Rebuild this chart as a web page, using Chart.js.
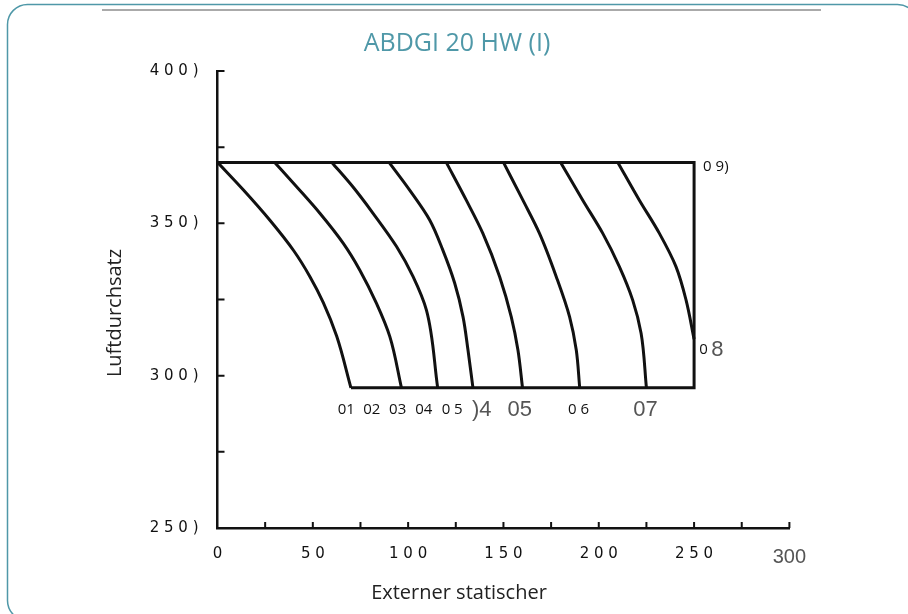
<!DOCTYPE html>
<html>
<head>
<meta charset="utf-8">
<title>ABDGI 20 HW (I)</title>
<script src="https://cdn.jsdelivr.net/npm/chart.js@4.4.0/dist/chart.umd.min.js"></script>
<style>
  html, body { margin: 0; padding: 0; background: #fff; overflow: hidden; }
  #chart { display: block; }
</style>
</head>
<body>
<canvas id="chart" width="908" height="614"></canvas>
<script>
// Kennlinien: x = externer statischer Druck, y = Luftdurchsatz
const curve1X = [0, 13.5, 27.5, 40, 48.5, 55.5, 62.5, 70];
const curve1Y = [370, 361, 351, 341, 332.5, 324, 313, 296];
const curve2X = [30, 41.5, 53.7, 66, 74.6, 83.4, 90.4, 96.5];
const curve2Y = [370, 362, 353.3, 343.4, 334.7, 323.7, 312.8, 296];
const curve3X = [60, 71, 81.6, 94, 102.6, 109.6, 115.5];
const curve3Y = [370, 362, 353.3, 342.3, 332.5, 321.5, 296];
const curve4X = [90, 100.8, 111.3, 118.2, 124.4, 128.8, 131.4, 134];
const curve4Y = [370, 360.9, 351.1, 341.2, 330.4, 319.3, 308.4, 296];
const curve5X = [120, 130.5, 139.2, 148, 154.1, 157.6, 160];
const curve5Y = [370, 357.6, 346.7, 332.5, 319.3, 308.4, 296];
const curve6X = [150, 160.2, 168.9, 177.7, 184.7, 188.2, 190];
const curve6Y = [370, 357.6, 346.7, 332.5, 319.3, 308.4, 296];
const curve7X = [180, 191.6, 202.1, 210.8, 217.8, 222.2, 225];
const curve7Y = [370, 357.6, 346.7, 335.8, 324.8, 313.9, 296];
const curve8X = [210, 221.3, 231.8, 240.5, 245.8, 250];
const curve8Y = [370, 357.6, 346.7, 335.8, 324.8, 312];

// Rahmen des Arbeitsbereichs
const boxX = [0, 250, 250, 70];
const boxY = [370, 370, 296, 296];

// Achsenbeschriftungen
const xLabelValues = [0, 50, 100, 150, 200, 250, 300];
const xLabels = ['0', '5 0', '1 0 0', '1 5 0', '2 0 0', '2 5 0', '300'];
const yLabelValues = [250, 300, 350, 400];
const yLabels = ['2 5 0 )', '3 0 0 )', '3 5 0 )', '4 0 0 )'];

// Kurvenbeschriftungen
const smallLabels = ['01', '02', '03', '04', '0 5', '0 6', '0 9)', '0'];
const smallLabelX = [67.6, 80.9, 94.5, 108.2, 123.1, 189.4, 261.4, 254.9];
const smallLabelY = [288.7, 288.7, 288.7, 288.7, 288.7, 288.7, 368.6, 308.4];
const bigLabels = [')4', '05', '07', '8'];
const bigLabelX = [138.6, 158.5, 224.5, 262.2];
const bigLabelY = [288.7, 288.7, 288.7, 308.4];

const curves = [
    [curve1X, curve1Y], [curve2X, curve2Y], [curve3X, curve3Y], [curve4X, curve4Y],
    [curve5X, curve5Y], [curve6X, curve6Y], [curve7X, curve7Y], [curve8X, curve8Y]
];

function toPoints(xs, ys) {
    return xs.map((x, i) => ({ x: x, y: ys[i] }));
}

// Kurven laufen nach unten, daher entlang y glätten
const datasets = curves.map((c, i) => ({
    label: 'Kurve ' + (i + 1),
    data: toPoints(c[0], c[1]),
    indexAxis: 'y',
    borderColor: '#111',
    borderWidth: 3,
    pointRadius: 0,
    cubicInterpolationMode: 'monotone',
    fill: false
}));
datasets.push({
    label: 'Bereich',
    data: toPoints(boxX, boxY),
    borderColor: '#111',
    borderWidth: 3,
    pointRadius: 0,
    tension: 0,
    borderJoinStyle: 'miter',
    fill: false
});

const frame = {
    id: 'frame',
    beforeDraw(chart) {
        const ctx = chart.ctx;
        ctx.save();
        ctx.fillStyle = '#fff';
        ctx.fillRect(0, 0, chart.width, chart.height);
        ctx.strokeStyle = '#4f98a8';
        ctx.lineWidth = 1.5;
        ctx.beginPath();
        ctx.roundRect(7.5, 4.5, 910, 616, 20);
        ctx.stroke();
        ctx.strokeStyle = '#aaa';
        ctx.lineWidth = 2;
        ctx.beginPath();
        ctx.moveTo(102, 10);
        ctx.lineTo(821, 10);
        ctx.stroke();

        ctx.font = '25px "Open Sans"';
        ctx.fillStyle = '#4f98a8';
        ctx.textAlign = 'center';
        ctx.textBaseline = 'middle';
        ctx.fillText('ABDGI 20 HW (I)', 457, 44);
        ctx.restore();
    }
};

// kurze Teilstriche nach innen
const innerTicks = {
    id: 'innerTicks',
    afterDatasetsDraw(chart) {
        const { ctx, chartArea, scales: { x, y } } = chart;
        ctx.save();
        ctx.strokeStyle = '#111';
        ctx.lineWidth = 2;
        ctx.beginPath();
        x.ticks.forEach(t => {
            if (t.value === 0) return;
            const px = x.getPixelForValue(t.value);
            ctx.moveTo(px, chartArea.bottom);
            ctx.lineTo(px, chartArea.bottom - 6);
        });
        y.ticks.forEach(t => {
            if (t.value === 250) return;
            const py = y.getPixelForValue(t.value);
            ctx.moveTo(chartArea.left, py);
            ctx.lineTo(chartArea.left + 7, py);
        });
        ctx.stroke();
        ctx.restore();
    }
};

const annotations = {
    id: 'annotations',
    afterDatasetsDraw(chart) {
        const { ctx, scales: { x, y } } = chart;
        ctx.save();
        ctx.textAlign = 'center';
        ctx.textBaseline = 'middle';
        ctx.font = '15px "Open Sans"';
        ctx.fillStyle = '#111';
        smallLabels.forEach((t, i) => {
            ctx.fillText(t, x.getPixelForValue(smallLabelX[i]), y.getPixelForValue(smallLabelY[i]));
        });
        ctx.font = '22px "Liberation Sans"';
        ctx.fillStyle = '#555';
        bigLabels.forEach((t, i) => {
            ctx.fillText(t, x.getPixelForValue(bigLabelX[i]), y.getPixelForValue(bigLabelY[i]));
        });

        // Achsentitel
        ctx.font = '20px "Open Sans"';
        ctx.fillStyle = '#222';
        ctx.fillText('Externer statischer', 459, 593);
        ctx.translate(115, 313);
        ctx.rotate(-Math.PI / 2);
        ctx.fillText('Luftdurchsatz', 0, 0);
        ctx.restore();
    }
};

const xTickFont = { family: 'DejaVu Sans', size: 15 };
const xTickFontBig = { family: 'Liberation Sans', size: 20 };

new Chart(document.getElementById('chart'), {
    type: 'line',
    data: { datasets: datasets },
    options: {
        responsive: false,
        animation: false,
        layout: { padding: { left: 0, right: 118.6, top: 71, bottom: 0 } },
        plugins: {
            legend: { display: false },
            tooltip: { enabled: false },
            title: { display: false }
        },
        scales: {
            x: {
                type: 'linear',
                min: 0,
                max: 300,
                afterFit: function(scale) { scale.height = 86; },
                grid: { display: true, drawOnChartArea: false, drawTicks: false },
                border: { display: true, color: '#111', width: 2.5 },
                ticks: {
                    stepSize: 25,
                    autoSkip: false,
                    maxRotation: 0,
                    padding: 17,
                    color: function(ctx) { return ctx.tick && ctx.tick.value === 300 ? '#555' : '#111'; },
                    font: function(ctx) { return ctx.tick && ctx.tick.value === 300 ? xTickFontBig : xTickFont; },
                    callback: function(value) {
                        const i = xLabelValues.indexOf(value);
                        return i >= 0 ? xLabels[i] : '';
                    }
                }
            },
            y: {
                type: 'linear',
                min: 250,
                max: 400,
                afterFit: function(scale) { scale.width = 217.5; },
                grid: { display: true, drawOnChartArea: false, drawTicks: false },
                border: { display: true, color: '#111', width: 2.5 },
                ticks: {
                    stepSize: 25,
                    autoSkip: false,
                    padding: 19,
                    color: '#111',
                    font: { family: 'DejaVu Sans', size: 15 },
                    callback: function(value) {
                        const i = yLabelValues.indexOf(value);
                        return i >= 0 ? yLabels[i] : '';
                    }
                }
            }
        }
    },
    plugins: [frame, innerTicks, annotations]
});
</script>
</body>
</html>
